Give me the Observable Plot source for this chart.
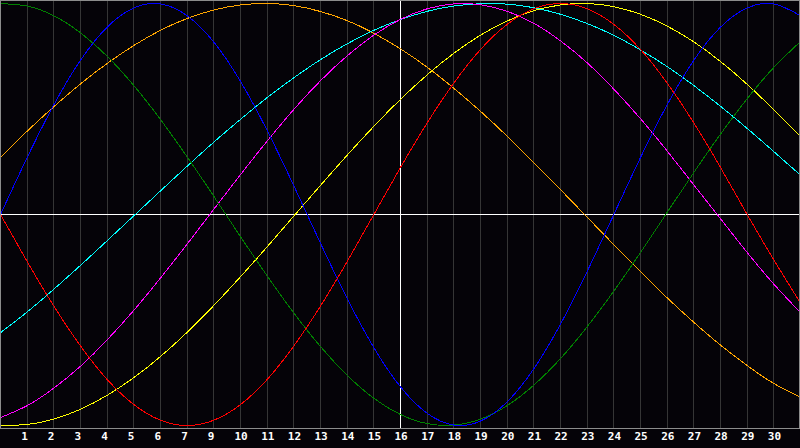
<!DOCTYPE html>
<html>
<head>
<meta charset="utf-8">
<script src="https://cdn.jsdelivr.net/npm/d3@7"></script>
<script src="https://cdn.jsdelivr.net/npm/@observablehq/plot@0.6"></script>
<style>
  html, body { margin: 0; padding: 0; background: #050308; }
  #chart svg { display: block; }
  #chart svg path, #chart svg line, #chart svg rect { shape-rendering: crispEdges; }
</style>
</head>
<body>
<div id="chart"></div>
<script>
// Day index along the x axis
const days = [0,1,2,3,4,5,6,7,8,9,10,11,12,13,14,15,16,17,18,19,20,21,22,23,24,25,26,27,28,29,30];

// Tick positions (gridlines) and their labels (note: the reference skips "8")
const tickPositions = [1,2,3,4,5,6,7,8,9,10,11,12,13,14,15,16,17,18,19,20,21,22,23,24,25,26,27,28,29];
const tickLabels = ["1","2","3","4","5","6","7","9","10","11","12","13","14","15","16","17","18","19","20","21","22","23","24","25","26","27","28","29","30"];
const todayPosition = 15;

// Series values (range -1 .. 1), one per day
const blueValues = [0,0.27,0.52,0.731,0.888,0.979,0.998,0.942,0.817,0.631,0.398,0.136,-0.136,-0.398,-0.631,-0.817,-0.942,-0.998,-0.979,-0.888,-0.731,-0.52,-0.27,0,0.27,0.52,0.731,0.888,0.979,0.998,0.942];
const redValues = [0,-0.223,-0.434,-0.623,-0.782,-0.901,-0.975,-1,-0.975,-0.901,-0.782,-0.623,-0.434,-0.223,0,0.223,0.434,0.623,0.782,0.901,0.975,1,0.975,0.901,0.782,0.623,0.434,0.223,0,-0.215,-0.42];
const greenValues = [0.999,0.988,0.942,0.861,0.75,0.611,0.45,0.273,0.086,-0.105,-0.291,-0.467,-0.626,-0.762,-0.871,-0.948,-0.991,-0.998,-0.97,-0.906,-0.809,-0.683,-0.532,-0.363,-0.18,0.01,0.199,0.381,0.549,0.697,0.82];
const orangeValues = [0.271,0.395,0.511,0.619,0.716,0.801,0.873,0.929,0.969,0.993,1,0.99,0.962,0.919,0.859,0.785,0.698,0.598,0.489,0.371,0.246,0.118,-0.013,-0.143,-0.271,-0.395,-0.511,-0.619,-0.716,-0.801,-0.865];
const cyanValues = [-0.56,-0.462,-0.354,-0.241,-0.124,-0.006,0.112,0.229,0.343,0.451,0.554,0.648,0.734,0.809,0.873,0.924,0.963,0.988,0.999,0.997,0.98,0.949,0.905,0.849,0.78,0.701,0.611,0.513,0.408,0.298,0.186];
const magentaValues = [-0.962,-0.906,-0.823,-0.719,-0.594,-0.454,-0.301,-0.14,0.025,0.189,0.348,0.498,0.634,0.752,0.85,0.925,0.975,0.998,0.994,0.963,0.906,0.823,0.719,0.594,0.454,0.301,0.14,-0.02,-0.18,-0.33,-0.465];
const yellowValues = [-0.999,-0.995,-0.969,-0.923,-0.857,-0.773,-0.673,-0.558,-0.431,-0.295,-0.153,-0.007,0.138,0.281,0.418,0.546,0.662,0.764,0.85,0.917,0.966,0.993,1,0.985,0.949,0.893,0.818,0.725,0.617,0.496,0.37];

const seriesNames = ["orange","cyan","magenta","yellow","green","blue","red"];
const seriesColors = ["#ff8000","#1ee8e8","#ff1cff","#ffff00","#33ff00","#2274ff","#ff0000"];
const seriesValues = [orangeValues, cyanValues, magentaValues, yellowValues, greenValues, blueValues, redValues];

const rows = seriesNames.flatMap((name, k) =>
  seriesValues[k].map((v, i) => ({day: days[i], v, name}))
);
const ticks = tickPositions.map((p, i) => ({pos: p, label: tickLabels[i]}));

const chart = Plot.plot({
  width: 800,
  height: 448,
  marginTop: 0,
  marginLeft: 0,
  marginRight: 0,
  marginBottom: 20,
  style: {background: "#050308", overflow: "visible"},
  x: {domain: [0, 30], range: [0, 800], axis: null},
  y: {domain: [-1, 1], range: [425, 3], axis: null},
  color: {domain: seriesNames, range: seriesColors},
  marks: [
    Plot.ruleX(tickPositions, {x: d => d, stroke: "#353535", strokeWidth: 1}),
    Plot.ruleY([0], {stroke: "#ffffff", strokeWidth: 1}),
    Plot.ruleX([todayPosition], {x: d => d, stroke: "#ffffff", strokeWidth: 1}),
    Plot.line(rows, {x: "day", y: "v", z: "name", stroke: "name", curve: "natural", strokeWidth: 1}),
    Plot.frame({stroke: "#8c8c8c", insetRight: 1}),
    Plot.text(ticks, {
      x: "pos", text: "label", frameAnchor: "bottom", dy: 11, dx: -6,
      textAnchor: "start", fill: "#ffffff", fontSize: 11, fontWeight: "bold",
      fontFamily: "DejaVu Sans Mono"
    })
  ]
});
document.getElementById("chart").appendChild(chart);
</script>
</body>
</html>
